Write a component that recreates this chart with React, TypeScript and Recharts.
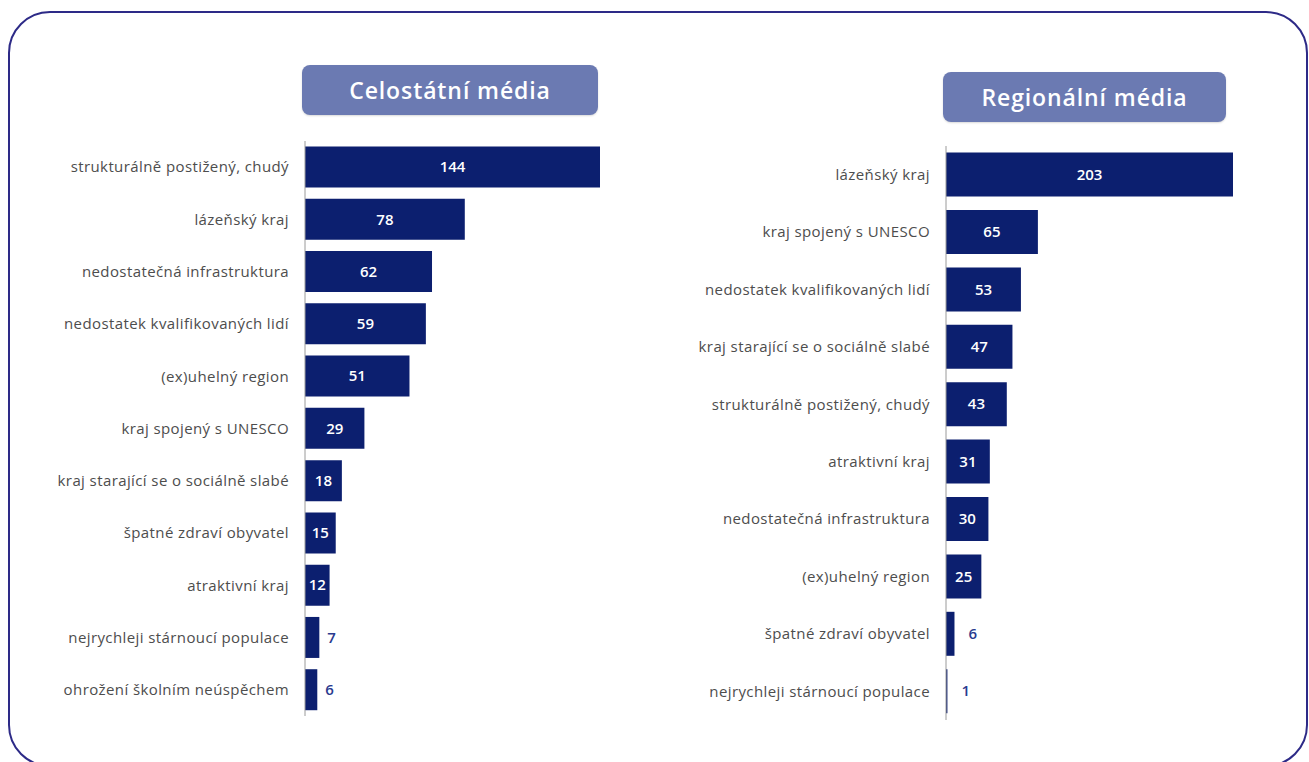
import React from 'react';
import { BarChart, Bar, XAxis, YAxis, LabelList } from 'recharts';

const nationalCategories = [
  'strukturálně postižený, chudý',
  'lázeňský kraj',
  'nedostatečná infrastruktura',
  'nedostatek kvalifikovaných lidí',
  '(ex)uhelný region',
  'kraj spojený s UNESCO',
  'kraj starající se o sociálně slabé',
  'špatné zdraví obyvatel',
  'atraktivní kraj',
  'nejrychleji stárnoucí populace',
  'ohrožení školním neúspěchem',
];
const nationalValues = [144, 78, 62, 59, 51, 29, 18, 15, 12, 7, 6];

const regionalCategories = [
  'lázeňský kraj',
  'kraj spojený s UNESCO',
  'nedostatek kvalifikovaných lidí',
  'kraj starající se o sociálně slabé',
  'strukturálně postižený, chudý',
  'atraktivní kraj',
  'nedostatečná infrastruktura',
  '(ex)uhelný region',
  'špatné zdraví obyvatel',
  'nejrychleji stárnoucí populace',
];
const regionalValues = [203, 65, 53, 47, 43, 31, 30, 25, 6, 1];

const nationalTitle = 'Celostátní média';
const regionalTitle = 'Regionální média';

const nationalData = nationalCategories.map((name, i) => ({ name, value: nationalValues[i] }));
const regionalData = regionalCategories.map((name, i) => ({ name, value: regionalValues[i] }));

const FONT = '"Open Sans", "Noto Sans", sans-serif';
const BAR_COLOR = '#0c1f6f';
const OUT_LABEL = '#2a3b8f';

function makeLabel(outsideGap: number) {
  return (props: any) => {
    const x = Number(props.x);
    const y = Number(props.y);
    const width = Number(props.width);
    const height = Number(props.height);
    const inside = width > 20;
    return (
      <text
        x={inside ? x + width / 2 : x + width + outsideGap}
        y={y + height / 2}
        dy="0.35em"
        textAnchor={inside ? 'middle' : 'start'}
        fill={inside ? '#ffffff' : OUT_LABEL}
        fontSize={15}
        fontWeight={600}
        fontFamily={FONT}
      >
        {props.value}
      </text>
    );
  };
}

type PanelProps = {
  data: { name: string; value: number }[];
  left: number;
  top: number;
  yWidth: number;
  plotW: number;
  plotH: number;
  max: number;
  gap: string;
  outsideGap: number;
};

function Panel({ data, left, top, yWidth, plotW, plotH, max, gap, outsideGap }: PanelProps) {
  const mt = 5;
  const mb = 5;
  const mr = 30;
  return (
    <div style={{ position: 'absolute', left, top }}>
      <BarChart
        width={yWidth + plotW + mr}
        height={plotH + mt + mb}
        data={data}
        layout="vertical"
        margin={{ top: mt, right: mr, bottom: mb, left: 0 }}
        barCategoryGap={gap}
      >
        <XAxis type="number" domain={[0, max]} hide />
        <YAxis
          type="category"
          dataKey="name"
          width={yWidth}
          interval={0}
          tickLine={false}
          tickSize={6}
          tickMargin={10}
          axisLine={{ stroke: '#9a9a9a' }}
          tick={{ fill: '#4d4d4d', fontSize: 15, fontFamily: FONT, letterSpacing: 0.4 }}
        />
        <Bar dataKey="value" fill={BAR_COLOR} isAnimationActive={false}>
          <LabelList dataKey="value" content={makeLabel(outsideGap)} />
        </Bar>
      </BarChart>
    </div>
  );
}

function TitleBox({ text, left, top, width }: { text: string; left: number; top: number; width: number }) {
  return (
    <div
      style={{
        position: 'absolute',
        left,
        top,
        width,
        height: 50,
        background: '#6b7ab2',
        borderRadius: 8,
        color: '#ffffff',
        fontFamily: FONT,
        fontSize: 23,
        fontWeight: 600,
        letterSpacing: 0.9,
        display: 'flex',
        alignItems: 'center',
        justifyContent: 'center',
        boxShadow: '0 1px 2px rgba(0,0,0,0.15)',
      }}
    >
      {text}
    </div>
  );
}

export default function App() {
  return (
    <div
      style={{
        position: 'fixed',
        left: 0,
        top: 0,
        width: 1309,
        height: 762,
        overflow: 'hidden',
        background: '#ffffff',
      }}
    >
      <div
        style={{
          position: 'absolute',
          left: 8,
          top: 11,
          width: 1300,
          height: 756,
          border: '2px solid #2d2a87',
          borderRadius: 42,
          boxSizing: 'border-box',
        }}
      />
      <TitleBox text={nationalTitle} left={302} top={65} width={296} />
      <TitleBox text={regionalTitle} left={943} top={72} width={283} />
      <Panel
        data={nationalData}
        left={0}
        top={136}
        yWidth={305}
        plotW={295}
        plotH={575}
        max={144}
        gap="10.5%"
        outsideGap={8}
      />
      <Panel
        data={regionalData}
        left={646}
        top={141}
        yWidth={300}
        plotW={287}
        plotH={574}
        max={203}
        gap="11.5%"
        outsideGap={14}
      />
    </div>
  );
}
